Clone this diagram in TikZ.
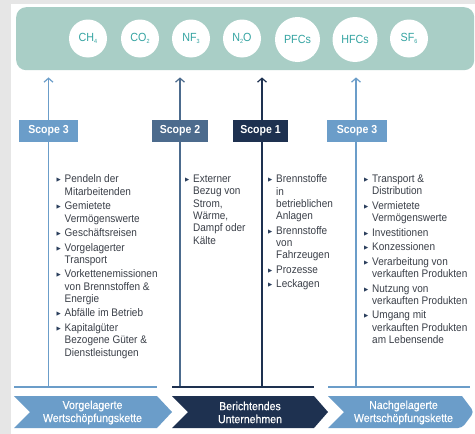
\documentclass[tikz,border=0pt]{standalone}
\usepackage{fontspec}
\setmainfont{Liberation Sans}
\newfontfamily\narrowf{Liberation Sans}[FakeStretch=0.91]
\newfontfamily\narrowmed{Liberation Sans}[FakeStretch=0.91,FakeBold=0.4]
\newfontfamily\narrowbf{Liberation Sans Bold}[FakeStretch=0.91]
\newfontfamily\symf{DejaVu Sans}
\usetikzlibrary{arrows.meta}
\definecolor{mint}{HTML}{A9CEC6}
\definecolor{gastxt}{HTML}{35A4A2}
\definecolor{sthree}{HTML}{6B9DC9}
\definecolor{stwo}{HTML}{4C6B8D}
\definecolor{sone}{HTML}{1E3150}
\definecolor{bodytxt}{HTML}{3A3F48}
\definecolor{bul}{HTML}{2A3E5C}
\definecolor{bgray}{HTML}{E6E6E6}
\newcommand{\bu}{\makebox[8pt][l]{\raisebox{1pt}{\symf\fontsize{5.5}{5}\selectfont\textcolor{bul}{▶}}}}
\newcommand{\ind}{\hspace*{8pt}}
\newcommand{\sub}[1]{\raisebox{-1.5pt}{\fontsize{6}{6}\selectfont #1}}
\begin{document}
\begin{tikzpicture}[x=1pt,y=-1pt,
  gas/.style={circle, fill=white, minimum size=38pt, inner sep=0pt, text=gastxt, font=\narrowf\fontsize{11.8}{12}\selectfont},
  biggas/.style={gas, minimum size=45pt},
  scopebox/.style={fill=#1, text=white, font=\narrowbf\fontsize{11.6}{12}\selectfont, minimum width=58pt, minimum height=22pt, inner sep=0pt},
  itemtext/.style={anchor=north west, align=left, inner sep=0pt, text=bodytxt, font=\narrowf\fontsize{11}{12.3}\selectfont},
  vline/.style={line width=1.4pt, draw=#1, -{Straight Barb[length=4pt,width=9pt,line width=1.2pt]}, shorten >=7pt},
  groundline/.style={line width=1.5pt, draw=#1},
  chevlabel/.style={text=white, align=center, font=\narrowmed\fontsize{11.6}{13}\selectfont}
]
\useasboundingbox (0,0) rectangle (475,434);
\fill[bgray] (0,0) rectangle (475,434);
\fill[white] (11,4) rectangle (475,434);

% gas band
\node[fill=mint, rounded corners=10pt, minimum width=458pt, minimum height=63pt, inner sep=0pt, anchor=north west] (band) at (16,7) {};
\node[gas] (ch4) at (88,38.5) {CH\sub{4}};
\node[gas] (co2) at (140,38.5) {CO\sub{2}};
\node[gas] (nf3) at (191,38.5) {NF\sub{3}};
\node[gas] (n2o) at (242,38.5) {N\sub{2}O};
\node[biggas] (pfc) at (297.5,39.5) {PFCs};
\node[biggas] (hfc) at (355,39.5) {HFCs};
\node[gas] (sf6) at (409,38.5) {SF\sub{6}};

% ground coordinates
\coordinate (g1) at (48.5,387);
\coordinate (g2) at (180,387);
\coordinate (g3) at (262,387);
\coordinate (g4) at (356,387);
\coordinate (l1a) at (14,387);  \coordinate (l1b) at (157,387);
\coordinate (l2a) at (172,387); \coordinate (l2b) at (314,387);
\coordinate (l3a) at (328,387); \coordinate (l3b) at (470,387);

% vertical arrows
\draw[vline=sthree] (g1) -- (g1 |- band.south);
\draw[vline=stwo] (g2) -- (g2 |- band.south);
\draw[vline=sone] (g3) -- (g3 |- band.south);
\draw[vline=sthree] (g4) -- (g4 |- band.south);

% ground lines
\draw[groundline=sthree] (l1a) -- (l1b);
\draw[groundline=sone] (l2a) -- (l2b);
\draw[groundline=sthree] (l3a) -- (l3b);

% scope boxes
\node[scopebox=sthree, minimum width=59pt] (s3a) at (48.5,131) {Scope 3};
\node[scopebox=stwo, minimum width=56pt] (s2) at (180,131) {Scope 2};
\node[scopebox=sone, minimum width=55pt] (s1) at (260.5,131) {Scope 1};
\node[scopebox=sthree, minimum width=60pt] (s3b) at (357,131) {Scope 3};

% item lists
\node[itemtext] (t3a) at (56.5,174.8) {\bu Pendeln der\\ \ind Mitarbeitenden\\[2.2pt]
\bu Gemietete\\ \ind Vermögenswerte\\[2.2pt]
\bu Geschäftsreisen\\[2.2pt]
\bu Vorgelagerter\\ \ind Transport\\[2.2pt]
\bu Vorkettenemissionen\\ \ind von Brennstoffen \&\\ \ind Energie\\[2.2pt]
\bu Abfälle im Betrieb\\[2.2pt]
\bu Kapitalgüter\\ \ind Bezogene Güter \&\\ \ind Dienstleistungen};

\node[itemtext] (t2) at (185,174.8) {\bu Externer\\ \ind Bezug von\\ \ind Strom,\\ \ind Wärme,\\ \ind Dampf oder\\ \ind Kälte};

\node[itemtext] (t1) at (268,174.8) {\bu Brennstoffe\\ \ind in\\ \ind betrieblichen\\ \ind Anlagen\\[2.2pt]
\bu Brennstoffe\\ \ind von\\ \ind Fahrzeugen\\[2.2pt]
\bu Prozesse\\[2.2pt]
\bu Leckagen};

\node[itemtext] (t3b) at (364,174.8) {\bu Transport \&\\ \ind Distribution\\[2.2pt]
\bu Vermietete\\ \ind Vermögenswerte\\[2.2pt]
\bu Investitionen\\[2.2pt]
\bu Konzessionen\\[2.2pt]
\bu Verarbeitung von\\ \ind verkauften Produkten\\[2.2pt]
\bu Nutzung von\\ \ind verkauften Produkten\\[2.2pt]
\bu Umgang mit\\ \ind verkauften Produkten\\ \ind am Lebensende};

% chevrons
\fill[sthree] (14,396) -- (157,396) -- (172,412) -- (157,428) -- (14,428) -- (30,412) -- cycle;
\fill[sone] (172,396) -- (314,396) -- (328,412) -- (314,428) -- (172,428) -- (188,412) -- cycle;
\fill[sthree, rounded corners=4pt] (328,396) [sharp corners] -- (462,396) [rounded corners=4pt] -- (474,412) -- (462,428) [sharp corners] -- (328,428) -- (344,412) -- cycle;
\node[chevlabel] (c1) at (92.5,412.5) {Vorgelagerte\\Wertschöpfungskette};
\node[chevlabel] (c2) at (250,412.5) {Berichtendes\\Unternehmen};
\node[chevlabel] (c3) at (403.5,412.5) {Nachgelagerte\\Wertschöpfungskette};
\end{tikzpicture}
\end{document}
